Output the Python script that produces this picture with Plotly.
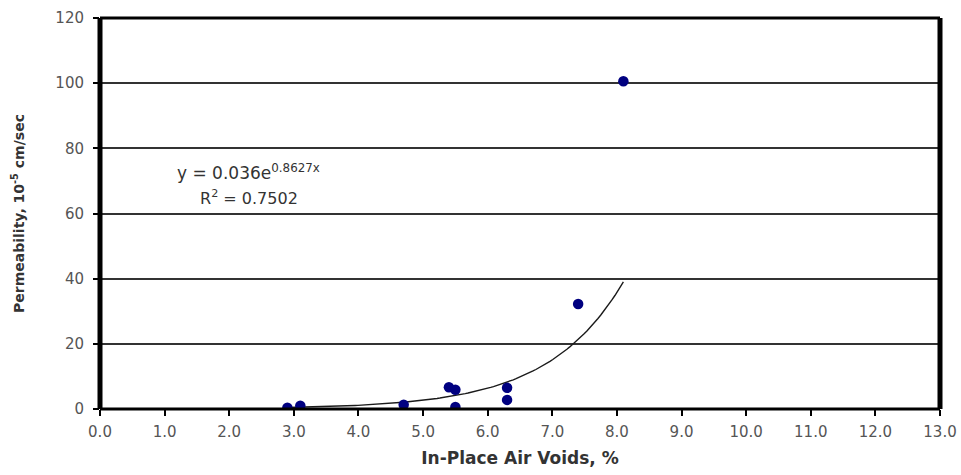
import numpy as np
import plotly.graph_objects as go

air_voids = [2.9, 3.1, 4.7, 5.4, 5.5, 5.5, 6.3, 6.3, 7.4, 8.1]
permeability = [0.4, 1.0, 1.3, 6.7, 5.9, 0.6, 6.5, 2.8, 32.2, 100.6]

# trendline as stated on the chart: y = 0.036 e^(0.8627x)
trend_a = 0.036
trend_b = 0.8627
trend_x = np.linspace(min(air_voids), max(air_voids), 120)
trend_y = trend_a * np.exp(trend_b * trend_x)

x_ticks = [i for i in range(0, 14)]
x_labels = [f"{v:.1f}" for v in x_ticks]
y_ticks = [0, 20, 40, 60, 80, 100, 120]

fig = go.Figure()
fig.add_trace(go.Scatter(x=trend_x, y=trend_y, mode="lines",
                         line=dict(color="#1a1a1a", width=1.4),
                         hoverinfo="skip", showlegend=False))
fig.add_trace(go.Scatter(x=air_voids, y=permeability, mode="markers",
                         marker=dict(color="#000080", size=10.5, symbol="circle",
                                     line=dict(width=0)),
                         showlegend=False))

font = "DejaVu Sans, Verdana, sans-serif"
fig.update_layout(
    width=961, height=475,
    margin=dict(l=100, r=21, t=18, b=66, autoexpand=False),
    paper_bgcolor="white", plot_bgcolor="white",
    font=dict(family=font, color="#555555", size=13),
    xaxis=dict(range=[0, 13], tickvals=x_ticks, ticktext=x_labels,
               automargin=False,
               showgrid=False, zeroline=False, showline=False,
               ticks="outside", ticklen=6, tickwidth=1.5, tickcolor="#000",
               ticklabelstandoff=3,
               tickfont=dict(size=15, color="#555555"),
               title=dict(text="<b>In-Place Air Voids, %</b>",
                          font=dict(size=17, color="#333333"), standoff=12)),
    yaxis=dict(range=[0, 120], tickvals=y_ticks,
               automargin=False,
               showgrid=True, gridcolor="#333333", gridwidth=1.5,
               zeroline=False, showline=False,
               ticks="outside", ticklen=6, tickwidth=1.5, tickcolor="#000",
               ticklabelstandoff=6,
               tickfont=dict(size=15, color="#555555"),
               title=dict(text="<b>Permeability, 10<sup>-5</sup> cm/sec</b>",
                          font=dict(size=14, color="#333333"), standoff=27)),
    shapes=[
        dict(type="line", xref="paper", yref="paper", x0=0, x1=0, y0=0, y1=1,
             line=dict(color="black", width=5)),
        dict(type="line", xref="paper", yref="paper", x0=1, x1=1, y0=0, y1=1,
             line=dict(color="black", width=5)),
        dict(type="line", xref="paper", yref="paper", x0=0, x1=1, y0=1, y1=1,
             line=dict(color="black", width=3)),
        dict(type="line", xref="paper", yref="paper", x0=0, x1=1, y0=0, y1=0,
             line=dict(color="black", width=3)),
    ],
    annotations=[
        dict(x=2.3, y=72.6, xref="x", yref="y", showarrow=False,
             text="y = 0.036e<sup>0.8627x</sup>",
             font=dict(size=17, color="#333333", family=font)),
        dict(x=2.3, y=65.0, xref="x", yref="y", showarrow=False,
             text="R<sup>2</sup> = 0.7502",
             font=dict(size=16, color="#333333", family=font)),
    ],
)

fig.write_html("out.html")
